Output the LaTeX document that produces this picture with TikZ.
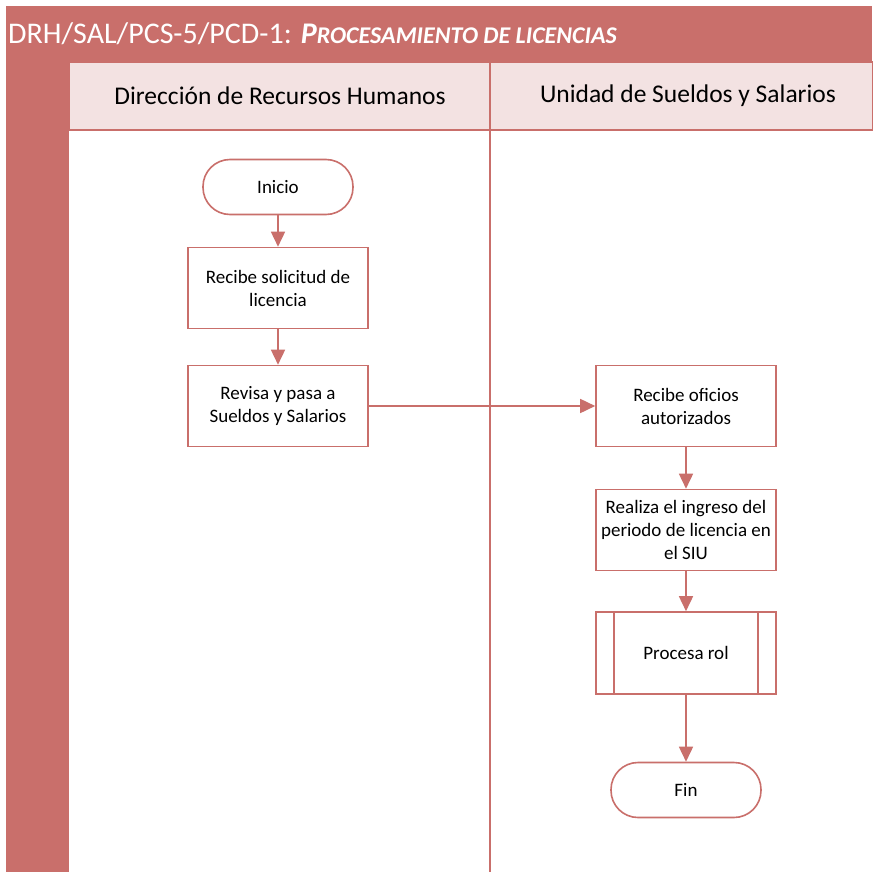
\documentclass[tikz,border=0pt]{standalone}
\usepackage{fontspec}
\setmainfont{Carlito}
\usetikzlibrary{arrows.meta}
\definecolor{lanered}{RGB}{201,111,107}
\definecolor{headpink}{RGB}{243,226,226}
\newcommand{\boxfont}{\fontsize{19}{23}\selectfont}
\tikzset{
  proc/.style={draw=lanered, line width=1.6pt, fill=white, minimum width=180pt, minimum height=81pt, align=center, font=\boxfont, inner sep=0pt},
  term/.style={draw=lanered, line width=1.6pt, fill=white, minimum width=150pt, minimum height=55pt, rounded corners=27pt, align=center, font=\boxfont},
  subproc/.style={proc, path picture={
      \draw[lanered, line width=1.6pt] ([xshift=18pt]path picture bounding box.north west) -- ([xshift=18pt]path picture bounding box.south west);
      \draw[lanered, line width=1.6pt] ([xshift=-18pt]path picture bounding box.north east) -- ([xshift=-18pt]path picture bounding box.south east);}},
  flow/.style={draw=lanered, line width=1.6pt, -{Triangle[length=15pt, width=14pt]}}
}
\begin{document}
\begin{tikzpicture}[x=1pt, y=-1pt]
\useasboundingbox (0,0) rectangle (872,872);
% Frame and lanes
\fill[lanered] (6,6) rectangle (872,872);
\fill[white] (69,130) rectangle (872,872);
\draw[lanered, line width=1.6pt, fill=headpink] (69,62) rectangle (873,130);
\draw[lanered, line width=1.6pt] (490,62) -- (490,872);
\node[anchor=west, text=white, font=\fontsize{30}{34}\selectfont, inner sep=0pt] (title) at (8,34)
  {DRH/SAL/PCS-5/PCD-1: \textbf{\textit{P{\fontsize{24}{28}\selectfont ROCESAMIENTO DE LICENCIAS}}}};
\node[font=\fontsize{25.5}{30}\selectfont] (laneA) at (280,96) {Dirección de Recursos Humanos};
\node[font=\fontsize{25.5}{30}\selectfont] (laneB) at (688,96) {Unidad de Sueldos y Salarios};

% Nodes
\node[term] (inicio) at (278,187) {Inicio};
\node[proc] (recibe) at (278,288) {Recibe solicitud de\\licencia};
\node[proc] (revisa) at (278,406) {Revisa y pasa a\\Sueldos y Salarios};
\node[proc] (oficios) at (686,406) {Recibe oficios\\autorizados};
\node[proc] (ingreso) at (686,530) {Realiza el ingreso del\\periodo de licencia en\\el SIU};
\node[subproc, minimum height=82pt] (rol) at (686,653) {Procesa rol};
\node[term] (fin) at (686,790) {Fin};

% Connectors
\draw[flow] (inicio) -- (recibe);
\draw[flow] (recibe) -- (revisa);
\draw[flow] (revisa) -- (oficios);
\draw[flow] (oficios) -- (ingreso);
\draw[flow] (ingreso) -- (rol);
\draw[flow] (rol) -- (fin);
\end{tikzpicture}
\end{document}
